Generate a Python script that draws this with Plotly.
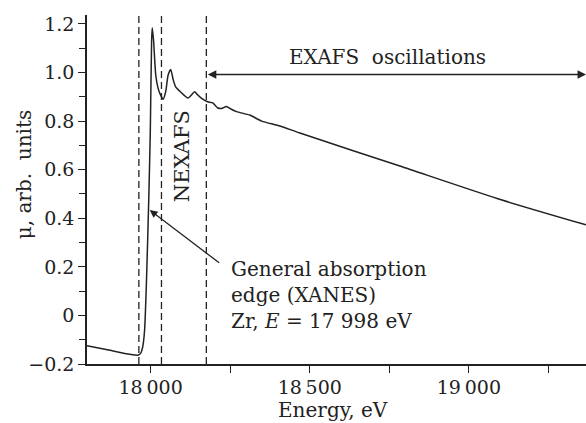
import plotly.graph_objects as go

# Zr K-edge absorption spectrum
energy_ev = [17800, 17860, 17934, 17960, 17969, 17975, 17981, 17987, 17994, 17999,
             18003, 18005, 18009, 18016, 18023, 18031, 18039, 18047, 18055, 18063,
             18071, 18079, 18091, 18104, 18117, 18127, 18138, 18148, 18159, 18179,
             18195, 18211, 18223, 18238, 18252, 18270, 18311, 18349, 18406, 18469,
             18783, 19104, 19368]
mu_arb = [-0.125, -0.14, -0.16, -0.164, -0.155, -0.13, -0.06, 0.146, 0.475, 0.764,
          1.13, 1.185, 1.135, 0.99, 0.937, 0.908, 0.89, 0.92, 0.99, 1.013,
          0.97, 0.94, 0.924, 0.908, 0.895, 0.906, 0.921, 0.908, 0.895, 0.88,
          0.875, 0.854, 0.852, 0.86, 0.85, 0.839, 0.825, 0.8, 0.78, 0.751,
          0.615, 0.475, 0.373]

# Region boundaries (eV): pre-edge / edge / NEXAFS / EXAFS
region_bounds = [17963, 18034, 18175]

x_tick_vals = [18000, 18500, 19000]
x_tick_text = ["18\u2009000", "18\u2009500", "19\u2009000"]
y_tick_vals = [-0.2, 0, 0.2, 0.4, 0.6, 0.8, 1.0, 1.2]
y_tick_text = ["\u22120.2", "0", "0.2", "0.4", "0.6", "0.8", "1.0", "1.2"]

INK = "#222222"
FONT = "DejaVu Serif"

fig = go.Figure()
fig.add_trace(go.Scatter(x=energy_ev, y=mu_arb, mode="lines",
                         line=dict(color=INK, width=1.5, shape="spline", smoothing=0.6),
                         hoverinfo="skip", showlegend=False))

for e in region_bounds:
    fig.add_shape(type="line", xref="x", yref="paper", x0=e, x1=e, y0=0, y1=1,
                  line=dict(color=INK, width=1.3, dash="7px,4px"))

# EXAFS span arrow
fig.add_annotation(x=19368, y=0.992, ax=region_bounds[2], ay=0.992,
                   xref="x", yref="y", axref="x", ayref="y", text="",
                   showarrow=True, arrowhead=2, startarrowhead=2, arrowside="end+start",
                   arrowsize=1.3, startarrowsize=1.3, arrowwidth=1.3, arrowcolor=INK)
fig.add_annotation(x=18428, y=1.064, xref="x", yref="y", text="EXAFS  oscillations",
                   showarrow=False, xanchor="left", yanchor="middle",
                   font=dict(family=FONT, size=20, color=INK))

fig.add_annotation(x=18101, y=0.655, xref="x", yref="y", text="NEXAFS", textangle=-90,
                   showarrow=False, xanchor="center", yanchor="middle",
                   font=dict(family=FONT, size=21, color=INK))

# Edge pointer
fig.add_annotation(x=17997, y=0.434, ax=18220, ay=0.212,
                   xref="x", yref="y", axref="x", ayref="y", text="",
                   showarrow=True, arrowhead=2, arrowsize=1.2, arrowwidth=1.3, arrowcolor=INK)
fig.add_annotation(x=18247, y=0.248, xref="x", yref="y",
                   text="General absorption<br>edge (XANES)<br>Zr, <i>E</i> = 17 998 eV",
                   showarrow=False, xanchor="left", yanchor="top", align="left",
                   font=dict(family=FONT, size=20, color=INK))

# Axis titles
fig.add_annotation(x=0.493, y=-0.091, xref="paper", yref="paper", text="Energy, eV",
                   showarrow=False, xanchor="center", yanchor="top",
                   font=dict(family=FONT, size=20, color=INK))
fig.add_annotation(x=-0.126, y=0.544, xref="paper", yref="paper", text="\u03bc, arb.  units",
                   textangle=-90, showarrow=False, xanchor="center", yanchor="middle",
                   font=dict(family=FONT, size=20, color=INK))

fig.update_xaxes(range=[17800, 19368], tickvals=x_tick_vals, ticktext=x_tick_text,
                 ticks="outside", ticklen=7, tickwidth=1.3, tickcolor=INK,
                 ticklabelstandoff=-2,
                 minor=dict(dtick=250, tick0=17750, ticks="outside", ticklen=7,
                            tickwidth=1.3, tickcolor=INK, showgrid=False),
                 showline=True, linecolor=INK, linewidth=1.5, showgrid=False, zeroline=False,
                 tickfont=dict(family=FONT, size=19, color=INK))
fig.update_yaxes(range=[-0.2, 1.237], tickvals=y_tick_vals, ticktext=y_tick_text,
                 ticks="outside", ticklen=7, tickwidth=1.3, tickcolor=INK,
                 minor=dict(dtick=0.1, tick0=0, ticks="outside", ticklen=6,
                            tickwidth=1.3, tickcolor=INK, showgrid=False),
                 showline=True, linecolor=INK, linewidth=1.5, showgrid=False, zeroline=False,
                 tickfont=dict(family=FONT, size=19, color=INK))

fig.update_layout(width=586, height=423, margin=dict(l=87, r=0, t=15, b=59),
                  paper_bgcolor="white", plot_bgcolor="white", showlegend=False)

fig.write_html("out.html")
